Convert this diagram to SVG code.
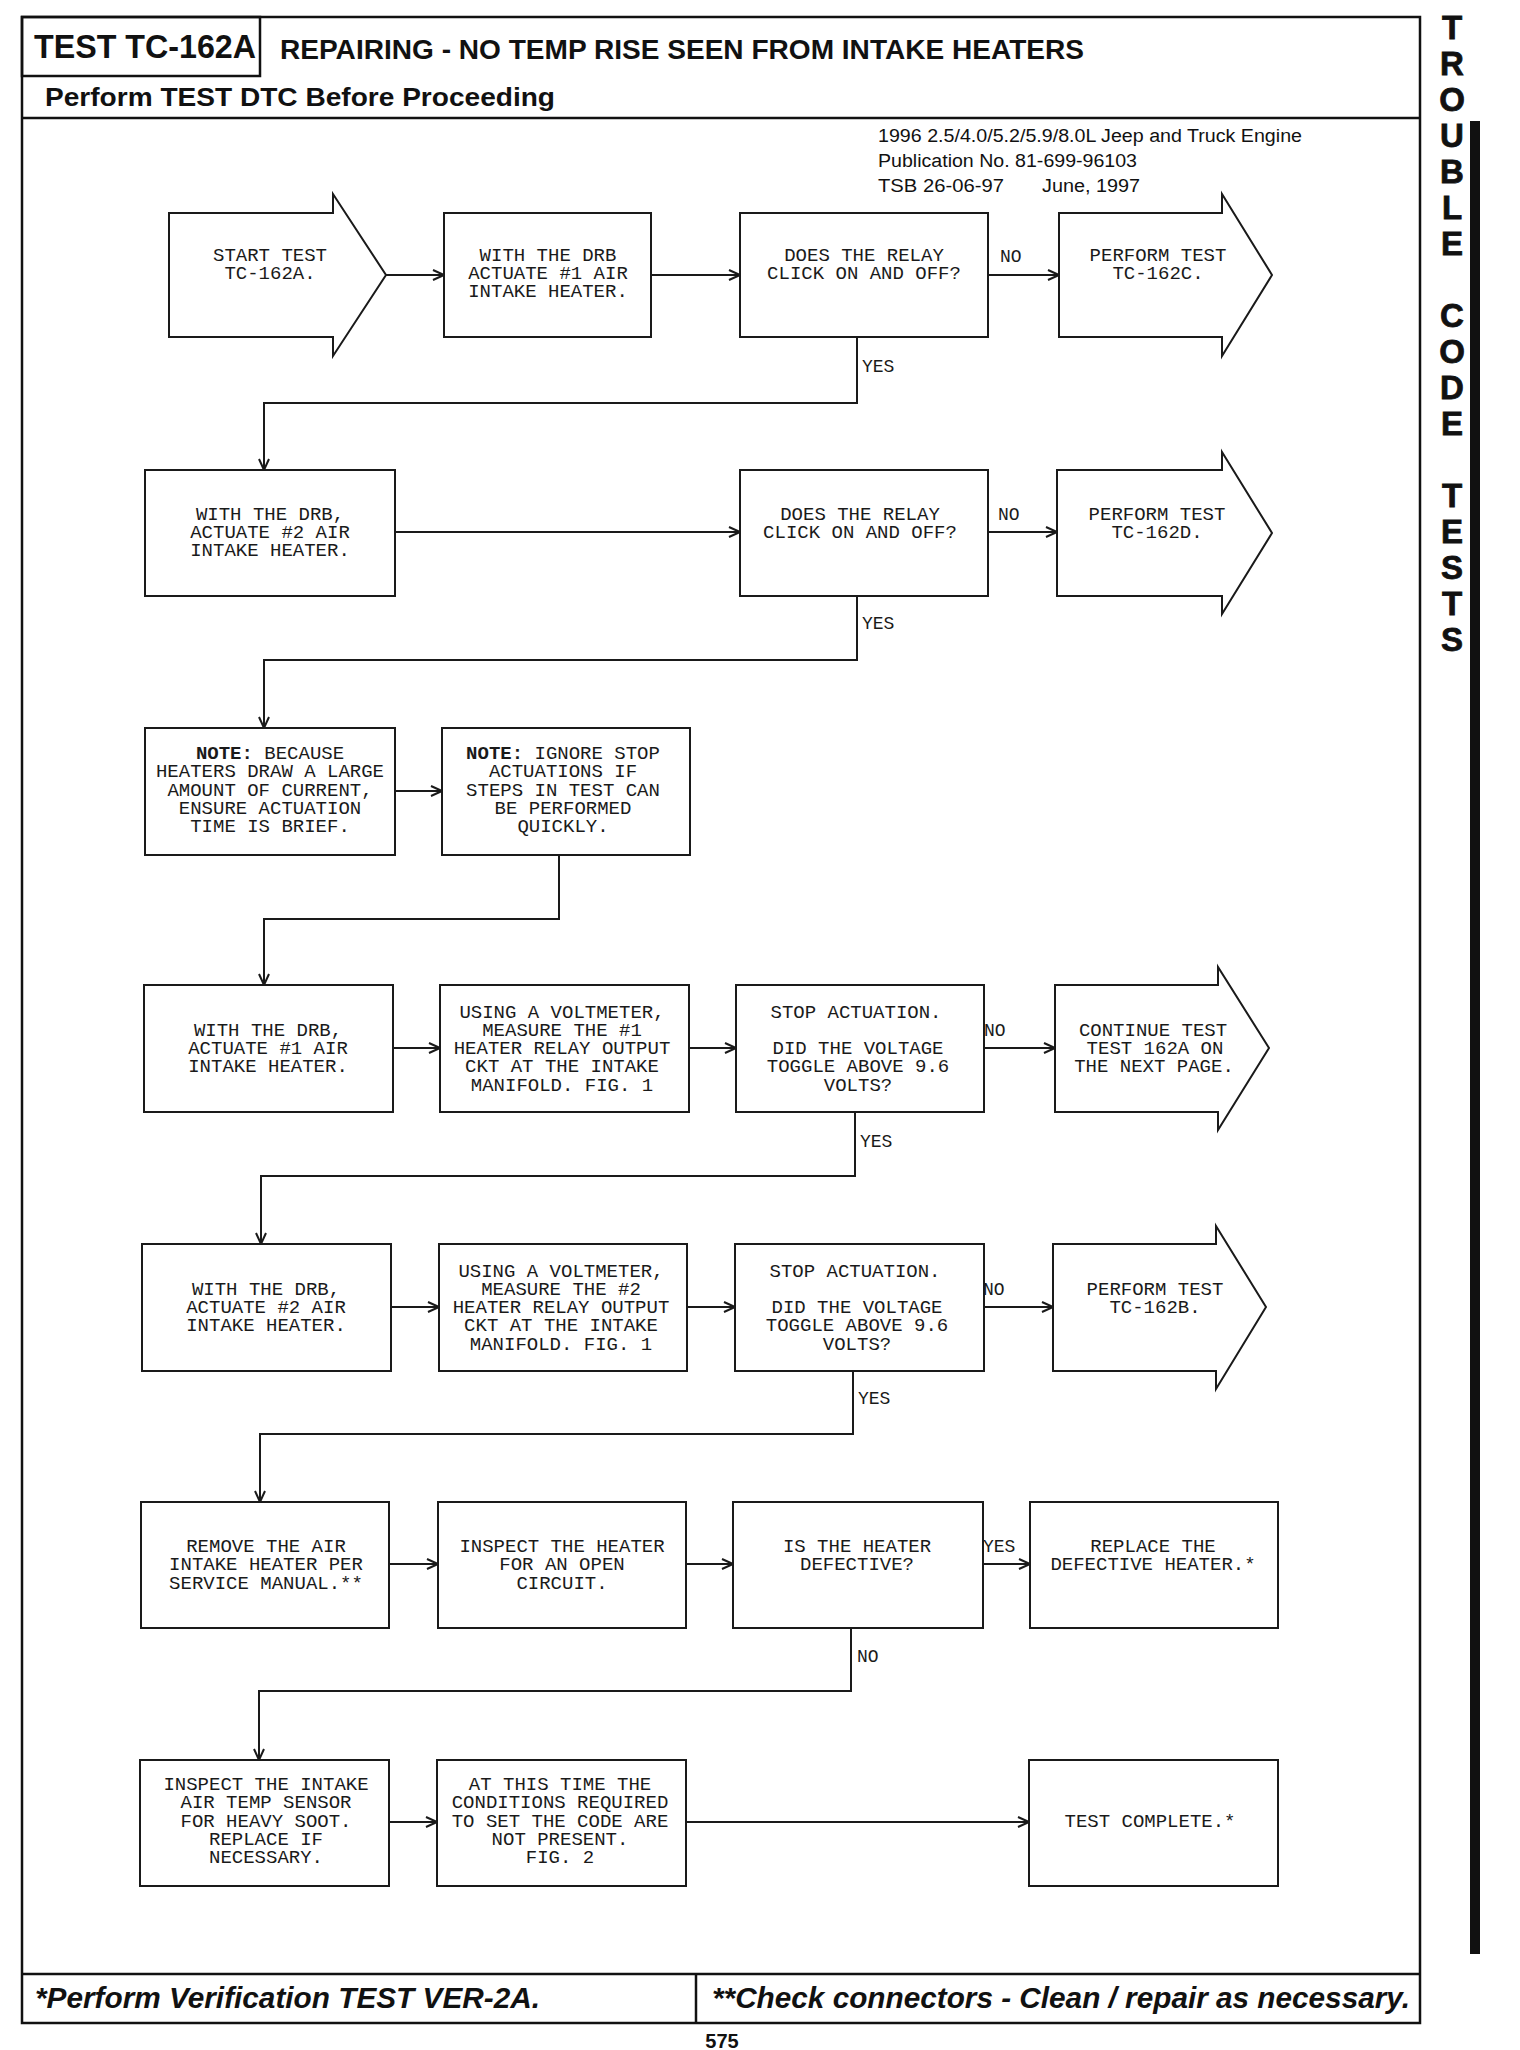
<svg xmlns="http://www.w3.org/2000/svg" width="1520" height="2050" viewBox="0 0 1520 2050">
<style>
.frame{fill:none;stroke:#111;stroke-width:2.5}
.box{fill:#fff;stroke:#1a1a1a;stroke-width:2}
.t{font-family:"Liberation Mono","Courier New",monospace;font-size:19px;fill:#1a1a1a;text-anchor:middle}
.lbl{font-family:"Liberation Mono","Courier New",monospace;font-size:18px;fill:#1a1a1a}
.c{fill:none;stroke:#1a1a1a;stroke-width:2}
.ca{fill:none;stroke:#1a1a1a;stroke-width:2;marker-end:url(#ah)}
.hd{font-family:"Liberation Sans",Arial,sans-serif;font-weight:bold;fill:#111}
.pub{font-family:"Liberation Sans",Arial,sans-serif;font-size:18px;fill:#111}
.side{font-family:"Liberation Sans",Arial,sans-serif;font-weight:bold;font-size:33px;fill:#111;text-anchor:middle;stroke:#111;stroke-width:0.8}
.ft{font-family:"Liberation Sans",Arial,sans-serif;font-weight:bold;font-style:italic;font-size:29px;fill:#111}
</style>
<defs>
<marker id="ah" markerUnits="userSpaceOnUse" markerWidth="14" markerHeight="12" refX="12" refY="6" orient="auto">
<path d="M1,1 L12,6 L1,11" fill="none" stroke="#1a1a1a" stroke-width="2"/>
</marker>
</defs>
<rect width="1520" height="2050" fill="#fff"/>

<g id="frame">
<rect class="frame" x="22" y="17" width="1398" height="2006"/>
<rect class="frame" x="22" y="17" width="238" height="59"/>
<line class="frame" x1="22" y1="118" x2="1420" y2="118"/>
<line class="frame" x1="22" y1="1974" x2="1420" y2="1974"/>
<line class="frame" x1="696" y1="1974" x2="696" y2="2023"/>
<text class="hd" x="34" y="58" font-size="33" textLength="222" lengthAdjust="spacingAndGlyphs">TEST TC-162A</text>
<text class="hd" x="280" y="59" font-size="27" textLength="804" lengthAdjust="spacingAndGlyphs">REPAIRING - NO TEMP RISE SEEN FROM INTAKE HEATERS</text>
<text class="hd" x="45" y="106" font-size="26" textLength="510" lengthAdjust="spacingAndGlyphs">Perform TEST DTC Before Proceeding</text>
<text class="pub" x="878" y="142" textLength="424" lengthAdjust="spacingAndGlyphs">1996 2.5/4.0/5.2/5.9/8.0L Jeep and Truck Engine</text>
<text class="pub" x="878" y="167" textLength="259" lengthAdjust="spacingAndGlyphs">Publication No. 81-699-96103</text>
<text class="pub" x="878" y="192" textLength="126" lengthAdjust="spacingAndGlyphs">TSB 26-06-97</text>
<text class="pub" x="1042" y="192" textLength="98" lengthAdjust="spacingAndGlyphs">June, 1997</text>
<text class="ft" x="35" y="2008" textLength="505" lengthAdjust="spacingAndGlyphs">*Perform Verification TEST VER-2A.</text>
<text class="ft" x="712" y="2008" textLength="698" lengthAdjust="spacingAndGlyphs">**Check connectors - Clean / repair as necessary.</text>
<text class="hd" x="722" y="2048" font-size="20" text-anchor="middle">575</text>
</g>

<g id="side-tab">
<rect x="1470" y="121" width="10" height="1833" fill="#111"/>
<text class="side" x="1452" y="39">T</text>
<text class="side" x="1452" y="75">R</text>
<text class="side" x="1452" y="111">O</text>
<text class="side" x="1452" y="147">U</text>
<text class="side" x="1452" y="183">B</text>
<text class="side" x="1452" y="219">L</text>
<text class="side" x="1452" y="255">E</text>
<text class="side" x="1452" y="327">C</text>
<text class="side" x="1452" y="363">O</text>
<text class="side" x="1452" y="399">D</text>
<text class="side" x="1452" y="435">E</text>
<text class="side" x="1452" y="507">T</text>
<text class="side" x="1452" y="543">E</text>
<text class="side" x="1452" y="579">S</text>
<text class="side" x="1452" y="615">T</text>
<text class="side" x="1452" y="651">S</text>
</g>

<g id="connectors">
<line class="ca" x1="386" y1="275" x2="444" y2="275"/>
<line class="ca" x1="651" y1="275" x2="740" y2="275"/>
<line class="ca" x1="988" y1="275" x2="1059" y2="275"/>
<text class="lbl" x="1000" y="262">NO</text>
<polyline class="ca" points="857,337 857,403 264,403 264,470"/>
<text class="lbl" x="862" y="372">YES</text>

<line class="ca" x1="395" y1="532" x2="740" y2="532"/>
<line class="ca" x1="988" y1="532" x2="1057" y2="532"/>
<text class="lbl" x="998" y="520">NO</text>
<polyline class="ca" points="857,596 857,660 264,660 264,728"/>
<text class="lbl" x="862" y="629">YES</text>

<line class="ca" x1="395" y1="791" x2="442" y2="791"/>
<polyline class="ca" points="559,855 559,919 264,919 264,985"/>

<line class="ca" x1="393" y1="1048" x2="440" y2="1048"/>
<line class="ca" x1="689" y1="1048" x2="736" y2="1048"/>
<line class="ca" x1="984" y1="1048" x2="1055" y2="1048"/>
<text class="lbl" x="984" y="1036">NO</text>
<polyline class="ca" points="855,1112 855,1176 261,1176 261,1244"/>
<text class="lbl" x="860" y="1147">YES</text>

<line class="ca" x1="391" y1="1307" x2="439" y2="1307"/>
<line class="ca" x1="687" y1="1307" x2="735" y2="1307"/>
<line class="ca" x1="984" y1="1307" x2="1053" y2="1307"/>
<text class="lbl" x="983" y="1295">NO</text>
<polyline class="ca" points="853,1371 853,1434 260,1434 260,1502"/>
<text class="lbl" x="858" y="1404">YES</text>

<line class="ca" x1="389" y1="1564" x2="438" y2="1564"/>
<line class="ca" x1="686" y1="1564" x2="733" y2="1564"/>
<line class="ca" x1="983" y1="1564" x2="1030" y2="1564"/>
<text class="lbl" x="983" y="1552">YES</text>
<polyline class="ca" points="851,1628 851,1691 259,1691 259,1760"/>
<text class="lbl" x="857" y="1662">NO</text>

<line class="ca" x1="389" y1="1822" x2="437" y2="1822"/>
<line class="ca" x1="686" y1="1822" x2="1029" y2="1822"/>
</g>

<g id="n-start">
<polygon class="box" points="169,213 333,213 333,194 386,275 333,356 333,337 169,337"/>
<text class="t" x="270" y="261">START TEST</text>
<text class="t" x="270" y="279">TC-162A.</text>
</g>
<g id="n-drb1">
<rect class="box" x="444" y="213" width="207" height="124"/>
<text class="t" x="548" y="261">WITH THE DRB</text>
<text class="t" x="548" y="279">ACTUATE #1 AIR</text>
<text class="t" x="548" y="297">INTAKE HEATER.</text>
</g>
<g id="n-relay1">
<rect class="box" x="740" y="213" width="248" height="124"/>
<text class="t" x="864" y="261">DOES THE RELAY</text>
<text class="t" x="864" y="279">CLICK ON AND OFF?</text>
</g>
<g id="n-tc162c">
<polygon class="box" points="1059,213 1222,213 1222,194 1272,275 1222,356 1222,337 1059,337"/>
<text class="t" x="1158" y="261">PERFORM TEST</text>
<text class="t" x="1158" y="279">TC-162C.</text>
</g>

<g id="n-drb2">
<rect class="box" x="145" y="470" width="250" height="126"/>
<text class="t" x="270" y="520">WITH THE DRB,</text>
<text class="t" x="270" y="538">ACTUATE #2 AIR</text>
<text class="t" x="270" y="556">INTAKE HEATER.</text>
</g>
<g id="n-relay2">
<rect class="box" x="740" y="470" width="248" height="126"/>
<text class="t" x="860" y="520">DOES THE RELAY</text>
<text class="t" x="860" y="538">CLICK ON AND OFF?</text>
</g>
<g id="n-tc162d">
<polygon class="box" points="1057,470 1222,470 1222,452 1272,533 1222,614 1222,596 1057,596"/>
<text class="t" x="1157" y="520">PERFORM TEST</text>
<text class="t" x="1157" y="538">TC-162D.</text>
</g>

<g id="n-note1">
<rect class="box" x="145" y="728" width="250" height="127"/>
<text class="t" x="270" y="759"><tspan font-weight="bold">NOTE:</tspan> BECAUSE</text>
<text class="t" x="270" y="777">HEATERS DRAW A LARGE</text>
<text class="t" x="270" y="796">AMOUNT OF CURRENT,</text>
<text class="t" x="270" y="814">ENSURE ACTUATION</text>
<text class="t" x="270" y="832">TIME IS BRIEF.</text>
</g>
<g id="n-note2">
<rect class="box" x="442" y="728" width="248" height="127"/>
<text class="t" x="563" y="759"><tspan font-weight="bold">NOTE:</tspan> IGNORE STOP</text>
<text class="t" x="563" y="777">ACTUATIONS IF</text>
<text class="t" x="563" y="796">STEPS IN TEST CAN</text>
<text class="t" x="563" y="814">BE PERFORMED</text>
<text class="t" x="563" y="832">QUICKLY.</text>
</g>

<g id="n-drb3">
<rect class="box" x="144" y="985" width="249" height="127"/>
<text class="t" x="268" y="1036">WITH THE DRB,</text>
<text class="t" x="268" y="1054">ACTUATE #1 AIR</text>
<text class="t" x="268" y="1072">INTAKE HEATER.</text>
</g>
<g id="n-volt1">
<rect class="box" x="440" y="985" width="249" height="127"/>
<text class="t" x="562" y="1018">USING A VOLTMETER,</text>
<text class="t" x="562" y="1036">MEASURE THE #1</text>
<text class="t" x="562" y="1054">HEATER RELAY OUTPUT</text>
<text class="t" x="562" y="1072">CKT AT THE INTAKE</text>
<text class="t" x="562" y="1091">MANIFOLD. FIG. 1</text>
</g>
<g id="n-toggle1">
<rect class="box" x="736" y="985" width="248" height="127"/>
<text class="t" x="856" y="1018">STOP ACTUATION.</text>
<text class="t" x="858" y="1054">DID THE VOLTAGE</text>
<text class="t" x="858" y="1072">TOGGLE ABOVE 9.6</text>
<text class="t" x="858" y="1091">VOLTS?</text>
</g>
<g id="n-continue">
<polygon class="box" points="1055,985 1218,985 1218,967 1269,1048 1218,1130 1218,1112 1055,1112"/>
<text class="t" x="1153" y="1036">CONTINUE TEST</text>
<text class="t" x="1155" y="1054">TEST 162A ON</text>
<text class="t" x="1154" y="1072">THE NEXT PAGE.</text>
</g>

<g id="n-drb4">
<rect class="box" x="142" y="1244" width="249" height="127"/>
<text class="t" x="266" y="1295">WITH THE DRB,</text>
<text class="t" x="266" y="1313">ACTUATE #2 AIR</text>
<text class="t" x="266" y="1331">INTAKE HEATER.</text>
</g>
<g id="n-volt2">
<rect class="box" x="439" y="1244" width="248" height="127"/>
<text class="t" x="561" y="1277">USING A VOLTMETER,</text>
<text class="t" x="561" y="1295">MEASURE THE #2</text>
<text class="t" x="561" y="1313">HEATER RELAY OUTPUT</text>
<text class="t" x="561" y="1331">CKT AT THE INTAKE</text>
<text class="t" x="561" y="1350">MANIFOLD. FIG. 1</text>
</g>
<g id="n-toggle2">
<rect class="box" x="735" y="1244" width="249" height="127"/>
<text class="t" x="855" y="1277">STOP ACTUATION.</text>
<text class="t" x="857" y="1313">DID THE VOLTAGE</text>
<text class="t" x="857" y="1331">TOGGLE ABOVE 9.6</text>
<text class="t" x="857" y="1350">VOLTS?</text>
</g>
<g id="n-tc162b">
<polygon class="box" points="1053,1244 1216,1244 1216,1226 1266,1307 1216,1389 1216,1371 1053,1371"/>
<text class="t" x="1155" y="1295">PERFORM TEST</text>
<text class="t" x="1155" y="1313">TC-162B.</text>
</g>

<g id="n-remove">
<rect class="box" x="141" y="1502" width="248" height="126"/>
<text class="t" x="266" y="1552">REMOVE THE AIR</text>
<text class="t" x="266" y="1570">INTAKE HEATER PER</text>
<text class="t" x="266" y="1589">SERVICE MANUAL.**</text>
</g>
<g id="n-inspect">
<rect class="box" x="438" y="1502" width="248" height="126"/>
<text class="t" x="562" y="1552">INSPECT THE HEATER</text>
<text class="t" x="562" y="1570">FOR AN OPEN</text>
<text class="t" x="562" y="1589">CIRCUIT.</text>
</g>
<g id="n-defective">
<rect class="box" x="733" y="1502" width="250" height="126"/>
<text class="t" x="857" y="1552">IS THE HEATER</text>
<text class="t" x="857" y="1570">DEFECTIVE?</text>
</g>
<g id="n-replace">
<rect class="box" x="1030" y="1502" width="248" height="126"/>
<text class="t" x="1153" y="1552">REPLACE THE</text>
<text class="t" x="1153" y="1570">DEFECTIVE HEATER.*</text>
</g>

<g id="n-sensor">
<rect class="box" x="140" y="1760" width="249" height="126"/>
<text class="t" x="266" y="1790">INSPECT THE INTAKE</text>
<text class="t" x="266" y="1808">AIR TEMP SENSOR</text>
<text class="t" x="266" y="1827">FOR HEAVY SOOT.</text>
<text class="t" x="266" y="1845">REPLACE IF</text>
<text class="t" x="266" y="1863">NECESSARY.</text>
</g>
<g id="n-conditions">
<rect class="box" x="437" y="1760" width="249" height="126"/>
<text class="t" x="560" y="1790">AT THIS TIME THE</text>
<text class="t" x="560" y="1808">CONDITIONS REQUIRED</text>
<text class="t" x="560" y="1827">TO SET THE CODE ARE</text>
<text class="t" x="560" y="1845">NOT PRESENT.</text>
<text class="t" x="560" y="1863">FIG. 2</text>
</g>
<g id="n-complete">
<rect class="box" x="1029" y="1760" width="249" height="126"/>
<text class="t" x="1150" y="1827">TEST COMPLETE.*</text>
</g>
</svg>
